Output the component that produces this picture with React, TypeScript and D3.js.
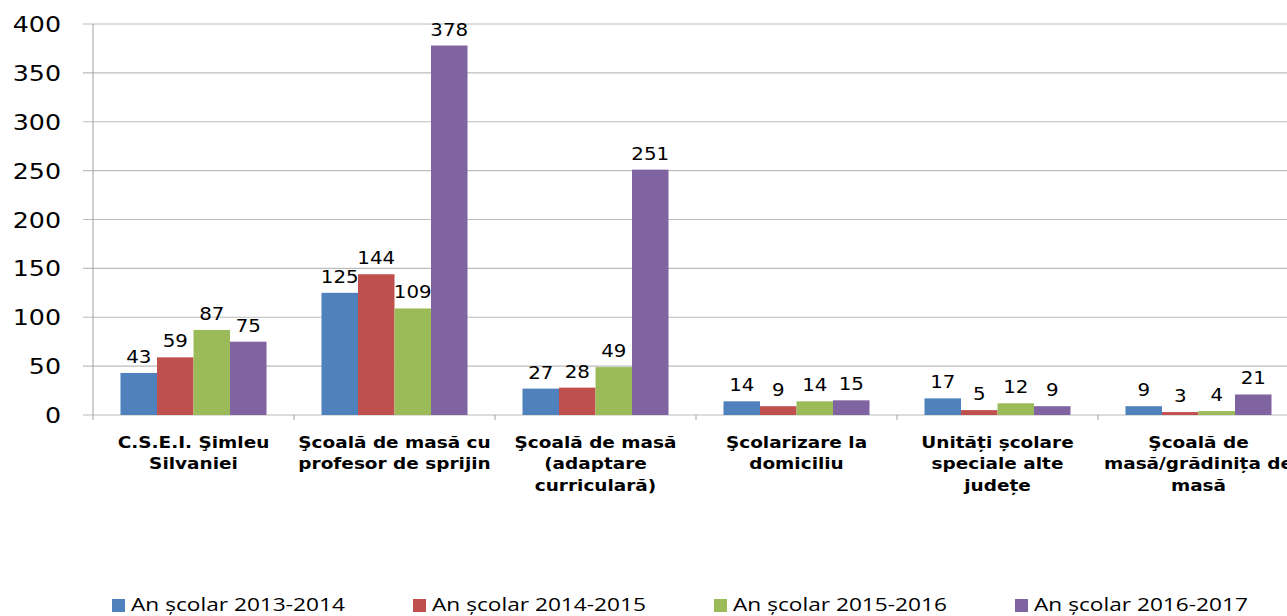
import React, { useEffect, useRef } from "react";
import * as d3 from "d3";

const categories = [
  "C.S.E.I. Şimleu\nSilvaniei",
  "Şcoală de masă cu\nprofesor de sprijin",
  "Şcoală de masă\n(adaptare\ncurriculară)",
  "Şcolarizare la\ndomiciliu",
  "Unități școlare\nspeciale alte\njudețe",
  "Şcoală de\nmasă/grădinița de\nmasă",
];
const series = [
  "An școlar 2013-2014",
  "An școlar 2014-2015",
  "An școlar 2015-2016",
  "An școlar 2016-2017",
];
const values2013 = [43, 125, 27, 14, 17, 9];
const values2014 = [59, 144, 28, 9, 5, 3];
const values2015 = [87, 109, 49, 14, 12, 4];
const values2016 = [75, 378, 251, 15, 9, 21];
const colors = ["#4F81BD", "#C0504D", "#9BBB59", "#8064A2"];
const yTicks = [0, 50, 100, 150, 200, 250, 300, 350, 400];

const W = 1287;
const H = 616;

const App: React.FC = () => {
  const ref = useRef<SVGSVGElement | null>(null);

  useEffect(() => {
    if (!ref.current) return;
    const svg = d3.select(ref.current);
    svg.selectAll("*").remove();

    const all = [values2013, values2014, values2015, values2016];
    const left = 93;
    const groupW = 201;

    const x0 = d3
      .scaleBand<string>()
      .domain(categories)
      .range([left, left + groupW * categories.length])
      .paddingInner(0)
      .paddingOuter(0);
    const x1 = d3
      .scaleBand<string>()
      .domain(series)
      .range([0, x0.bandwidth()])
      .paddingInner(0)
      .paddingOuter(0.753);
    const y = d3.scaleLinear().domain([0, 400]).range([415, 24]);

    // gridlines
    svg
      .append("g")
      .selectAll("line")
      .data(yTicks)
      .enter()
      .append("line")
      .attr("x1", 83)
      .attr("x2", W)
      .attr("y1", (d) => y(d))
      .attr("y2", (d) => y(d))
      .attr("stroke", "#bcbcbc")
      .attr("stroke-width", 1.2);

    // y axis line
    svg
      .append("line")
      .attr("x1", left)
      .attr("x2", left)
      .attr("y1", y(400))
      .attr("y2", y(0) + 5)
      .attr("stroke", "#a0a0a0")
      .attr("stroke-width", 1);

    // x tick marks
    svg
      .append("g")
      .selectAll("line")
      .data(categories)
      .enter()
      .append("line")
      .attr("x1", (d) => x0(d)! + groupW)
      .attr("x2", (d) => x0(d)! + groupW)
      .attr("y1", y(0))
      .attr("y2", y(0) + 5)
      .attr("stroke", "#a0a0a0");

    // y tick labels (the original text is a bit stretched horizontally)
    svg
      .append("g")
      .selectAll("text")
      .data(yTicks)
      .enter()
      .append("text")
      .attr("transform", (d) => `translate(61,${y(d) + 8}) scale(1.15,1)`)
      .attr("text-anchor", "end")
      .style("font-family", "DejaVu Sans")
      .style("font-size", "22px")
      .attr("fill", "#000")
      .text((d) => d);

    // bars
    series.forEach((s, si) => {
      const g = svg.append("g");
      g.selectAll("rect")
        .data(all[si])
        .enter()
        .append("rect")
        .attr("x", (_, i) => x0(categories[i])! + x1(s)!)
        .attr("y", (d) => y(d))
        .attr("width", x1.bandwidth())
        .attr("height", (d) => y(0) - y(d))
        .attr("fill", colors[si]);
      g.selectAll("text")
        .data(all[si])
        .enter()
        .append("text")
        .attr(
          "transform",
          (d, i) =>
            `translate(${x0(categories[i])! + x1(s)! + x1.bandwidth() / 2},${y(d) - 10}) scale(1.1,1)`
        )
        .attr("text-anchor", "middle")
        .style("font-family", "DejaVu Sans")
        .style("font-size", "18px")
        .attr("fill", "#000")
        .text((d) => d);
    });

    // category labels
    const cat = svg
      .append("g")
      .selectAll("text")
      .data(categories)
      .enter()
      .append("text")
      .attr("transform", (d) => `translate(${x0(d)! + groupW / 2},0) scale(1.12,1)`)
      .attr("text-anchor", "middle")
      .style("font-family", "DejaVu Sans")
      .style("font-weight", "bold")
      .style("font-size", "16.5px")
      .attr("fill", "#000");
    cat
      .selectAll("tspan")
      .data((d) => d.split("\n"))
      .enter()
      .append("tspan")
      .attr("x", 0)
      .attr("y", (_, i) => 448 + i * 21.5)
      .text((d) => d);

    // legend
    const leg = svg
      .append("g")
      .selectAll("g")
      .data(series)
      .enter()
      .append("g")
      .attr("transform", (_, i) => `translate(${112 + i * 301},0)`);
    leg
      .append("rect")
      .attr("x", 0)
      .attr("y", 599)
      .attr("width", 13)
      .attr("height", 13)
      .attr("fill", (_, i) => colors[i]);
    leg
      .append("text")
      .attr("transform", "translate(19,611) scale(1.26,1)")
      .style("font-family", "Open Sans")
      .style("font-size", "18px")
      .attr("fill", "#000")
      .text((d) => d);
  }, []);

  return (
    <svg
      ref={ref}
      width={W}
      height={H}
      style={{ position: "absolute", left: 0, top: 0, background: "#fff" }}
    />
  );
};

export default App;
